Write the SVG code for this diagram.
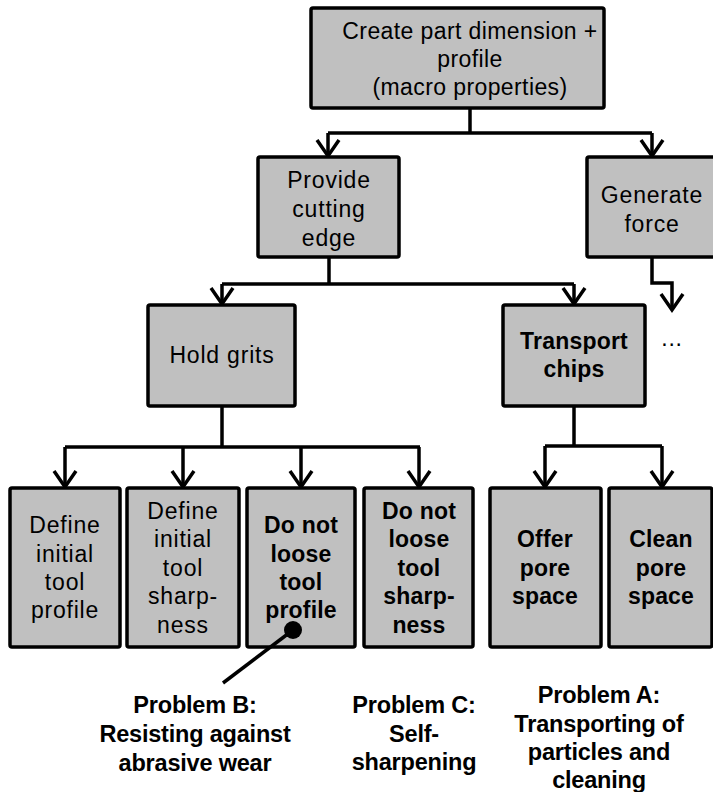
<svg xmlns="http://www.w3.org/2000/svg" width="713" height="792" viewBox="0 0 713 792">
<style>
.box{fill:#C0C0C0;stroke:#000;stroke-width:3.5}
.t{font-family:"Liberation Sans",Arial,sans-serif;font-size:23px;letter-spacing:0.8px;text-anchor:middle;fill:#000}
.b{font-family:"Liberation Sans",Arial,sans-serif;font-size:23px;font-weight:bold;letter-spacing:0.2px;text-anchor:middle;fill:#000}
.p{font-family:"Liberation Sans",Arial,sans-serif;font-size:23.5px;font-weight:bold;letter-spacing:-0.2px;text-anchor:middle;fill:#000}
.c{fill:none;stroke:#000;stroke-width:3.5;stroke-linejoin:miter}
</style>
<defs>
<marker id="arr" markerUnits="userSpaceOnUse" markerWidth="30" markerHeight="30" viewBox="-15 -20 30 25" refX="0" refY="0" orient="auto-start-reverse" overflow="visible">
<path d="M -11,-16 L 0,0 L 11,-16" fill="none" stroke="#000" stroke-width="3.5" transform="rotate(-90)"/>
</marker>
</defs>
<rect width="713" height="792" fill="#fff"/>
<g id="connectors">
<path class="c" d="M470,108 V133"/>
<path class="c" d="M328,133 H652"/>
<path class="c" d="M328,133 V156" marker-end="url(#arr)"/>
<path class="c" d="M652,133 V156" marker-end="url(#arr)"/>
<path class="c" d="M329,257 V284"/>
<path class="c" d="M222,284 H574"/>
<path class="c" d="M222,284 V304" marker-end="url(#arr)"/>
<path class="c" d="M574,284 V304" marker-end="url(#arr)"/>
<path class="c" d="M652,257 V283 H672 V310" marker-end="url(#arr)"/>
<path class="c" d="M222,406 V447"/>
<path class="c" d="M65,447 H420"/>
<path class="c" d="M65,447 V487" marker-end="url(#arr)"/>
<path class="c" d="M183,447 V487" marker-end="url(#arr)"/>
<path class="c" d="M301,447 V487" marker-end="url(#arr)"/>
<path class="c" d="M419,447 V487" marker-end="url(#arr)"/>
<path class="c" d="M574,406 V446"/>
<path class="c" d="M545,446 H662"/>
<path class="c" d="M545,446 V487" marker-end="url(#arr)"/>
<path class="c" d="M662,446 V487" marker-end="url(#arr)"/>
</g>
<g id="n-create">
<rect class="box" x="311" y="8" width="293" height="100" rx="2"/>
<text class="t" style="letter-spacing:0.4px"><tspan x="470" y="39">Create part dimension +</tspan><tspan x="470" y="67">profile</tspan><tspan x="470" y="95">(macro properties)</tspan></text>
</g>
<g id="n-provide">
<rect class="box" x="258" y="157" width="141" height="100" rx="2"/>
<text class="t"><tspan x="329" y="188">Provide</tspan><tspan x="329" y="217">cutting</tspan><tspan x="329" y="246">edge</tspan></text>
</g>
<g id="n-generate">
<rect class="box" x="587" y="157" width="135" height="100" rx="2"/>
<text class="t"><tspan x="652" y="203">Generate</tspan><tspan x="652" y="232">force</tspan></text>
</g>
<g id="n-more">
<text class="t" x="672" y="346">...</text>
</g>
<g id="n-hold">
<rect class="box" x="148" y="305" width="147" height="101" rx="2"/>
<text class="t" x="222" y="363">Hold grits</text>
</g>
<g id="n-transport">
<rect class="box" x="503" y="305" width="142" height="101" rx="2"/>
<text class="b"><tspan x="574" y="349">Transport</tspan><tspan x="574" y="377">chips</tspan></text>
</g>
<g id="n-define-profile">
<rect class="box" x="10" y="488" width="110" height="159" rx="2"/>
<text class="t"><tspan x="65" y="533">Define</tspan><tspan x="65" y="562">initial</tspan><tspan x="65" y="590">tool</tspan><tspan x="65" y="618">profile</tspan></text>
</g>
<g id="n-define-sharpness">
<rect class="box" x="127" y="488" width="112" height="159" rx="2"/>
<text class="t"><tspan x="183" y="519">Define</tspan><tspan x="183" y="547">initial</tspan><tspan x="183" y="576">tool</tspan><tspan x="183" y="604">sharp-</tspan><tspan x="183" y="633">ness</tspan></text>
</g>
<g id="n-keep-profile">
<rect class="box" x="247" y="488" width="108" height="159" rx="2"/>
<text class="b"><tspan x="301" y="533">Do not</tspan><tspan x="301" y="562">loose</tspan><tspan x="301" y="590">tool</tspan><tspan x="301" y="618">profile</tspan></text>
</g>
<g id="n-keep-sharpness">
<rect class="box" x="364" y="488" width="109" height="159" rx="2"/>
<text class="b"><tspan x="419" y="519">Do not</tspan><tspan x="419" y="547">loose</tspan><tspan x="419" y="576">tool</tspan><tspan x="419" y="604">sharp-</tspan><tspan x="419" y="633">ness</tspan></text>
</g>
<g id="n-offer">
<rect class="box" x="490" y="488" width="111" height="159" rx="2"/>
<text class="b"><tspan x="545" y="547">Offer</tspan><tspan x="545" y="576">pore</tspan><tspan x="545" y="604">space</tspan></text>
</g>
<g id="n-clean">
<rect class="box" x="609" y="488" width="103" height="159" rx="2"/>
<text class="b"><tspan x="661" y="547">Clean</tspan><tspan x="661" y="576">pore</tspan><tspan x="661" y="604">space</tspan></text>
</g>
<g id="n-problem-b">
<path d="M293,630 L223,683" fill="none" stroke="#000" stroke-width="3.5"/>
<circle cx="293" cy="630" r="9" fill="#000"/>
<text class="p"><tspan x="195" y="713">Problem B:</tspan><tspan x="195" y="742">Resisting against</tspan><tspan x="195" y="771">abrasive wear</tspan></text>
</g>
<g id="n-problem-c">
<text class="p"><tspan x="414" y="713">Problem C:</tspan><tspan x="414" y="742">Self-</tspan><tspan x="414" y="770">sharpening</tspan></text>
</g>
<g id="n-problem-a">
<text class="p"><tspan x="599" y="703">Problem A:</tspan><tspan x="599" y="732">Transporting of</tspan><tspan x="599" y="760">particles and</tspan><tspan x="599" y="788">cleaning</tspan></text>
</g>
</svg>
